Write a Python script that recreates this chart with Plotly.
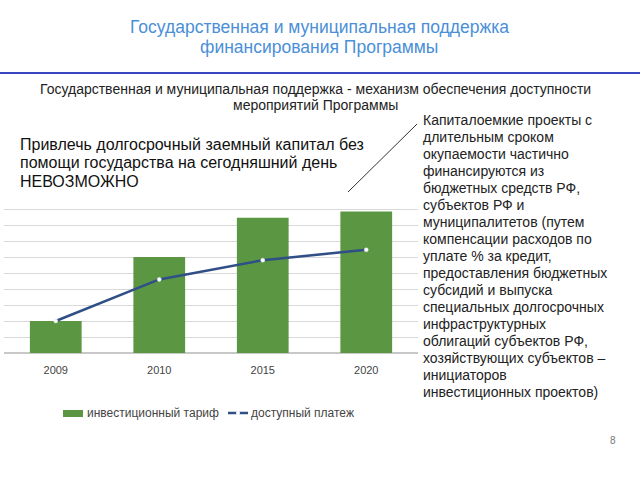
import plotly.graph_objects as go

categories = ["2009", "2010", "2015", "2020"]
tariff = [2.0, 6.0, 8.45, 8.85]
payment = [2.0, 4.6, 5.8, 6.45]

title_lines = ["Государственная и муниципальная поддержка", "финансирования Программы"]
subtitle_lines = ["Государственная и муниципальная поддержка - механизм обеспечения доступности",
                  "мероприятий Программы"]
left_lines = ["Привлечь долгосрочный заемный капитал без", "помощи государства на сегодняшний день",
              "НЕВОЗМОЖНО"]
right_lines = ["Капиталоемкие проекты с", "длительным сроком", "окупаемости частично", "финансируются из",
               "бюджетных средств РФ,", "субъектов РФ и", "муниципалитетов (путем", "компенсации расходов по",
               "уплате % за кредит,", "предоставления бюджетных", "субсидий и выпуска",
               "специальных долгосрочных", "инфраструктурных", "облигаций субъектов РФ,",
               "хозяйствующих субъектов –", "инициаторов", "инвестиционных проектов)"]
legend_names = ["инвестиционный тариф", "доступный платеж"]

W, H = 640, 480
def px(x): return x / W
def py(y): return 1 - y / H

bar_color = "#5b9742"
line_color = "#2f4f86"
font = "Liberation Sans, Arial, sans-serif"

fig = go.Figure()
fig.add_trace(go.Bar(x=categories, y=tariff, name=legend_names[0],
                     marker=dict(color=bar_color, line=dict(width=0))))
fig.add_trace(go.Scatter(x=categories, y=payment, name=legend_names[1], mode="lines+markers",
                         line=dict(color=line_color, width=2.5),
                         marker=dict(color="white", size=4, line=dict(color="#dfe6f0", width=0.5))))

fig.update_layout(
    width=W, height=H, margin=dict(l=0, r=0, t=0, b=0),
    paper_bgcolor="white", plot_bgcolor="white",
    font=dict(family=font, color="#333333"),
    bargap=0.5,
    showlegend=False,
    xaxis=dict(domain=[px(4), px(418)], showgrid=False, showline=False, ticks="",
               tickfont=dict(size=11, color="#444444"), ticklabelstandoff=9, fixedrange=True),
    yaxis=dict(domain=[py(353), py(193)], range=[0, 10], dtick=1, showticklabels=False,
               gridcolor="#d9d9d9", gridwidth=1, zeroline=True, zerolinecolor="#c8c8c8",
               showline=False, ticks=""),
)

ann = []
def add_lines(lines, x, y0, dy, size, color, anchor):
    for i, t in enumerate(lines):
        ann.append(dict(text=t, x=px(x), y=py(y0 + i * dy), xref="paper", yref="paper",
                        showarrow=False, font=dict(size=size, color=color, family=font),
                        xanchor=anchor, yanchor="middle", borderpad=0))

add_lines(title_lines, 319, 27, 20, 17.5, "#4a8fd8", "center")
add_lines(subtitle_lines, 315, 89, 15.5, 14, "#222222", "center")
add_lines(left_lines, 19, 144, 18.5, 16, "#111111", "left")
add_lines(right_lines, 422, 120, 17, 14, "#222222", "left")

# legend
add_lines([legend_names[0]], 86, 413, 0, 12, "#444444", "left")
add_lines([legend_names[1]], 250, 413, 0, 12, "#444444", "left")
ann.append(dict(text="8", x=px(613), y=py(440), xref="paper", yref="paper", showarrow=False,
                font=dict(size=10, color="#777777", family=font), xanchor="center", yanchor="middle"))
fig.update_layout(annotations=ann)

fig.add_shape(type="rect", xref="paper", yref="paper", x0=px(63), x1=px(83), y0=py(410), y1=py(417),
              line=dict(width=0), fillcolor=bar_color)
fig.add_shape(type="line", xref="paper", yref="paper", x0=px(228), x1=px(248), y0=py(413), y1=py(413),
              line=dict(color=line_color, width=2.5))
fig.add_shape(type="circle", xref="paper", yref="paper", x0=px(236), x1=px(240), y0=py(411), y1=py(415),
              line=dict(width=0), fillcolor="white")

fig.add_shape(type="line", xref="paper", yref="paper", x0=0, x1=1, y0=py(73), y1=py(73),
              line=dict(color="#3a46c0", width=2))
fig.add_shape(type="line", xref="paper", yref="paper", x0=px(348), y0=py(192), x1=px(417), y1=py(124),
              line=dict(color="#333333", width=1))

fig.write_html("out.html")
